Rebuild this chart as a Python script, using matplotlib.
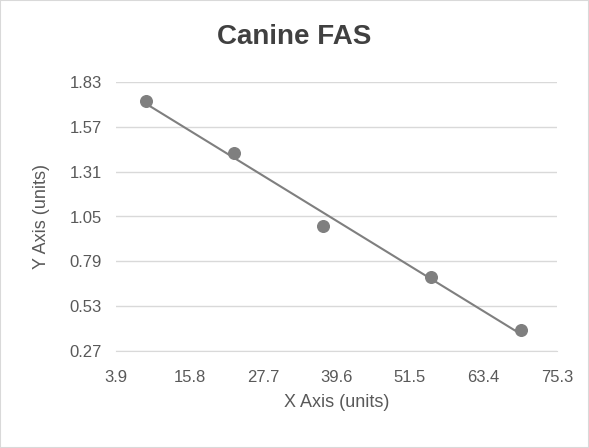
import matplotlib
matplotlib.use("Agg")
import matplotlib.pyplot as plt
import numpy as np

x = [8.75, 23.0, 37.4, 54.9, 69.4]
y = [1.72, 1.42, 0.995, 0.70, 0.39]
xticks = [3.9, 15.8, 27.7, 39.6, 51.5, 63.4, 75.3]
yticks = [0.27, 0.53, 0.79, 1.05, 1.31, 1.57, 1.83]

plt.rcParams['font.family'] = ['Liberation Sans', 'DejaVu Sans']
fig = plt.figure(figsize=(5.89, 4.48), dpi=100)
ax = fig.add_axes([116/589, 1-351/448, 441/589, 269/448])
fig.patches.append(plt.Rectangle((0, 0), 1, 1, transform=fig.transFigure, fill=False, edgecolor='#d9d9d9', lw=1.5))

m, b = np.polyfit(x, y, 1)
xs = np.array([min(x), max(x)])
ax.plot(xs, m*xs+b, color='#7f7f7f', lw=1.5, zorder=2)
ax.scatter(x, y, s=70, color='#7f7f7f', zorder=3)

ax.set_xlim(3.9, 75.3); ax.set_ylim(0.27, 1.83)
ax.set_xticks(xticks); ax.set_yticks(yticks)
ax.set_xticklabels([f"{v:.1f}" for v in xticks])
ax.set_yticklabels([f"{v:.2f}" for v in yticks])
ax.tick_params(length=0, labelsize=12, colors='#595959')
ax.tick_params(axis='x', pad=14)
ax.tick_params(axis='y', pad=10)
ax.grid(axis='y', color='#d9d9d9', lw=1)
ax.set_axisbelow(True)
for s in ['top', 'right', 'left']:
    ax.spines[s].set_visible(False)
ax.spines['bottom'].set_color('#d9d9d9')
ax.set_xlabel('X Axis (units)', fontsize=13, color='#595959', labelpad=6)
ax.set_ylabel('Y Axis (units)', fontsize=13, color='#595959', labelpad=14)
fig.text(0.5, 1-37/448, 'Canine FAS', ha='center', va='center', fontsize=20, fontweight='bold', color='#404040')
fig.savefig('out.png', dpi=100)
